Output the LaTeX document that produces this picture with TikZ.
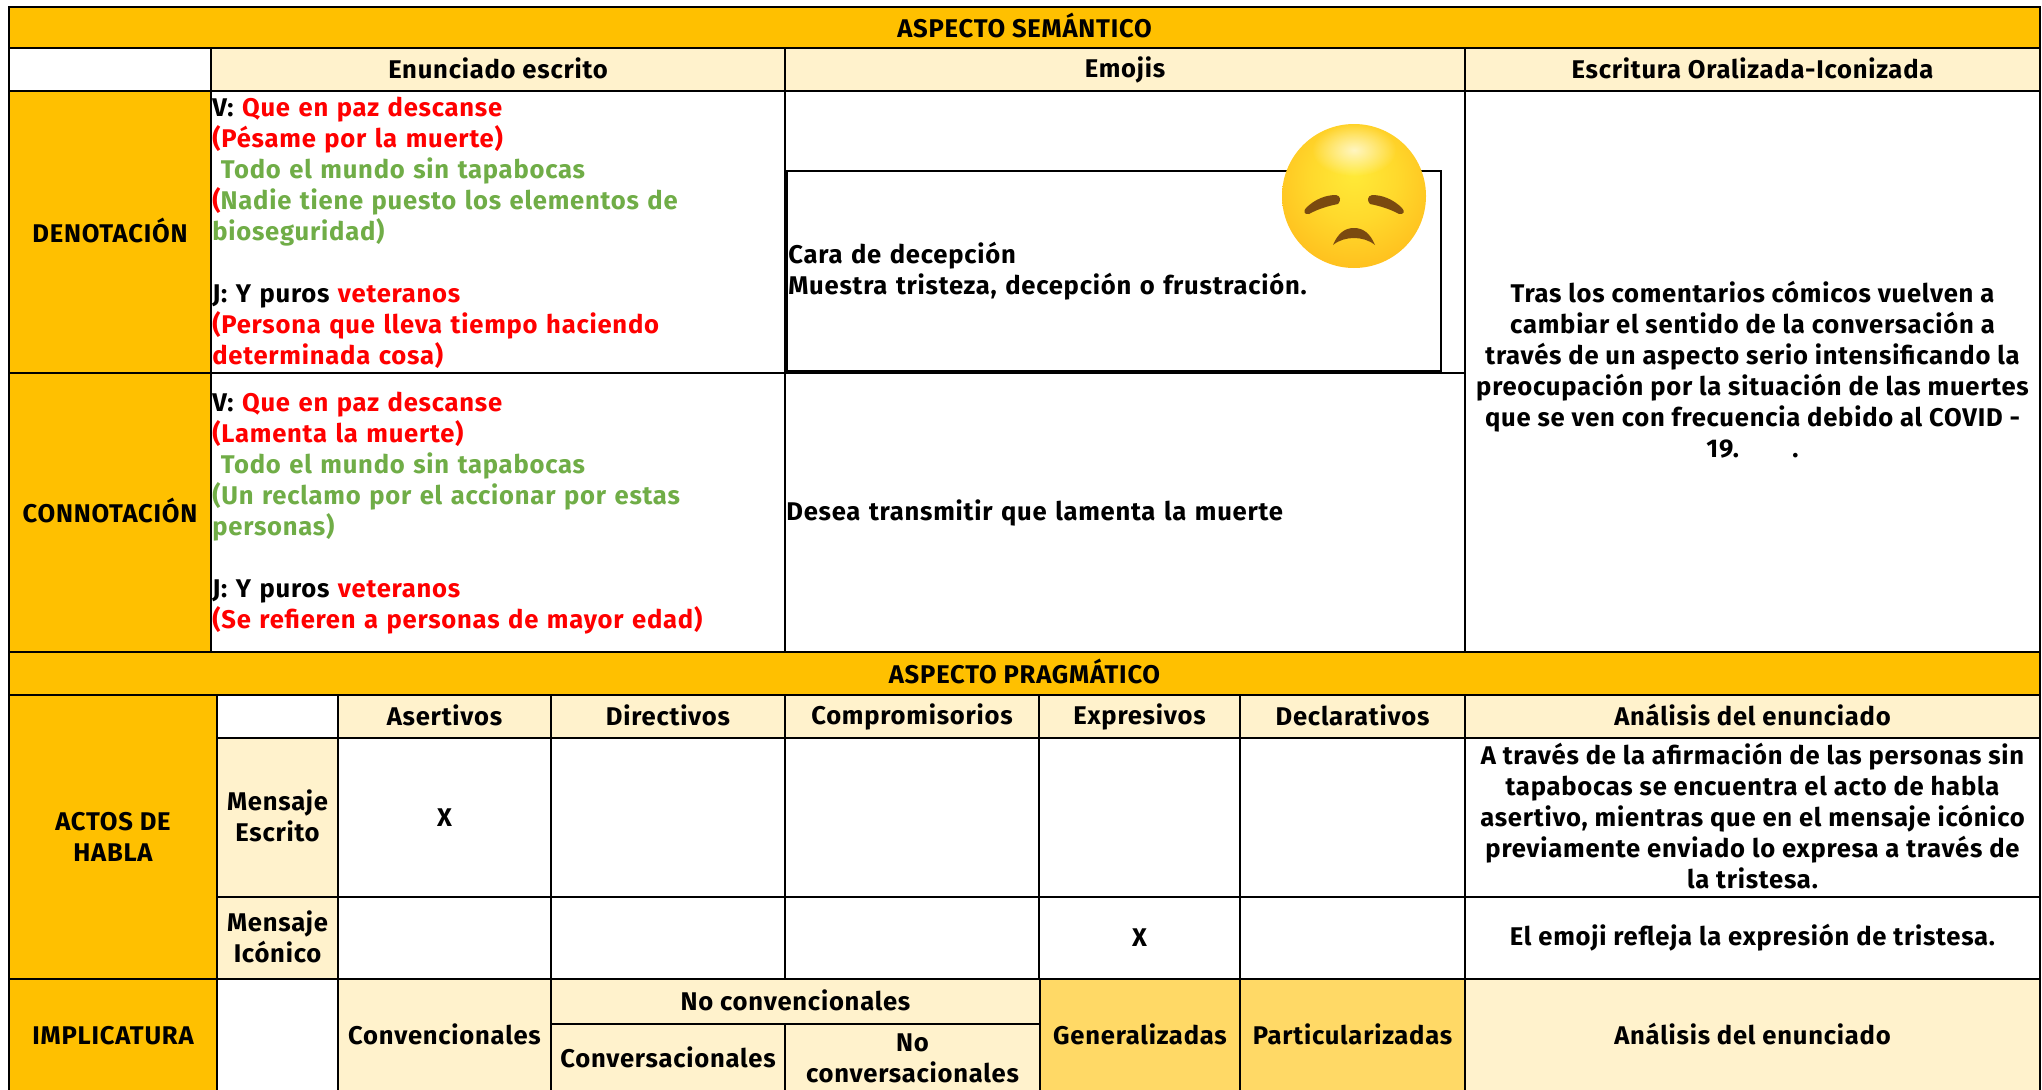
\documentclass[tikz,border=0pt]{standalone}
\usepackage{fontspec}
\setmainfont{Fira Sans}[LetterSpace=3]
\usetikzlibrary{fadings}
\definecolor{gold}{HTML}{FFC000}
\definecolor{pale}{HTML}{FFF2CC}
\definecolor{mid}{HTML}{FFD966}
\definecolor{rd}{HTML}{FF0000}
\definecolor{gr}{HTML}{70AD47}
\definecolor{browned}{HTML}{7A4A10}
\definecolor{ea}{HTML}{FFEA38}
\definecolor{eb}{HTML}{FFD92C}
\definecolor{ec}{HTML}{FFC01E}
\definecolor{ed}{HTML}{F5A312}
\definecolor{ee}{HTML}{E8890C}
\newcommand{\tb}{\fontsize{19.2}{23.25}\selectfont\bfseries}
\newcommand{\R}[1]{\textcolor{rd}{#1}}
\newcommand{\G}[1]{\textcolor{gr}{#1}}
\newcommand{\ls}{\leavevmode\vrule width 0pt height 16pt depth 3.25pt\relax}
\newcommand{\cellnode}[7]{%
  \pgfmathsetmacro{\cw}{(#4-#2)*0.75}%
  \pgfmathsetmacro{\ch}{(#5-#3)*0.75}%
  \node[cell,#6,minimum width=\cw pt,minimum height=\ch pt] (#1) at ({(#2+#4)/2},{(#3+#5)/2}) {\ls #7\ls};%
}
\pgfdeclareradialshading{emojiball}{\pgfpoint{0bp}{8bp}}{%
  color(0bp)=(ea);
  color(15bp)=(eb);
  color(30bp)=(ec);
  color(42bp)=(ed);
  color(52bp)=(ee);
  color(70bp)=(ee)}
\tikzfading[name=topglow,inner color=transparent!30,outer color=transparent!100]
\tikzset{
  cell/.style={draw=black,line width=2.1pt,inner sep=0pt,align=center,font=\tb,text=black,fill=white},
  goldcell/.style={fill=gold},
  palecell/.style={fill=pale},
  midcell/.style={fill=mid},
  leftcell/.style={align=left,text width=\cw pt-2pt},
}
\begin{document}
\begin{tikzpicture}[x=0.75pt,y=-0.75pt]
\useasboundingbox (0,0) rectangle (2042,1089);
% semantic part
\cellnode{tsem}{9}{7}{2040}{48}{goldcell}{ASPECTO SEMÁNTICO}
\cellnode{blank1}{9}{48}{211}{91}{}{}
\cellnode{henun}{211}{48}{785}{91}{palecell}{Enunciado escrito}
\cellnode{hemo}{785}{48}{1465}{91}{palecell}{Emojis}
\cellnode{hesc}{1465}{48}{2040}{91}{palecell}{Escritura Oralizada-Iconizada}
\cellnode{den}{9}{91}{211}{373}{goldcell}{DENOTACIÓN}
\cellnode{con}{9}{373}{211}{652}{goldcell}{CONNOTACIÓN}
\cellnode{dentxt}{211}{91}{785}{373}{leftcell}{V: \R{Que en paz descanse}\\
\R{(Pésame por la muerte)}\\
\G{\ Todo el mundo sin tapabocas}\\
\R{(}\G{Nadie tiene puesto los elementos de}\\
\G{bioseguridad)}\\
\mbox{}\\
J: Y puros \R{veteranos}\\
\R{(Persona que lleva tiempo haciendo}\\
\R{determinada cosa)}}
\cellnode{contxt}{211}{373}{785}{652}{leftcell}{V: \R{Que en paz descanse}\\
\R{(Lamenta la muerte)}\\
\G{\ Todo el mundo sin tapabocas}\\
\G{(Un reclamo por el accionar por estas}\\
\G{personas)}\\
\mbox{}\\
J: Y puros \R{veteranos}\\
\R{(Se refieren a personas de mayor edad)}}
\cellnode{emo1}{785}{91}{1465}{373}{}{}
\cellnode{emobox}{787}{171}{1441}{371}{leftcell}{Cara de decepción\\
Muestra tristeza, decepción o frustración.}
\cellnode{emo2}{785}{373}{1465}{652}{leftcell}{Desea transmitir que lamenta la muerte}
\cellnode{esc}{1465}{91}{2040}{652}{}{Tras los comentarios cómicos vuelven a\\
cambiar el sentido de la conversación a\\
través de un aspecto serio intensificando la\\
preocupación por la situación de las muertes\\
que se ven con frecuencia debido al COVID -\\
19.\hspace{40pt}.}
% emoji
\begin{scope}
\shade[shading=emojiball] (1354,196) circle[radius=72];
\fill[white,path fading=topglow] (1354,150) ellipse[x radius=42,y radius=26];
\fill[browned] (1306,208) .. controls (1315,199) and (1326,195) .. (1336,195) .. controls (1341,196) and (1341,201) .. (1338,204) .. controls (1328,206) and (1318,209) .. (1309,214) .. controls (1304,215) and (1303,211) .. (1306,208) -- cycle;
\fill[browned] (1402,208) .. controls (1393,199) and (1382,195) .. (1372,195) .. controls (1367,196) and (1367,201) .. (1370,204) .. controls (1380,206) and (1390,209) .. (1399,214) .. controls (1404,215) and (1405,211) .. (1402,208) -- cycle;
\fill[browned] (1333,245) .. controls (1338,233) and (1345,228) .. (1354,228) .. controls (1363,228) and (1370,233) .. (1375,245) .. controls (1369,240) and (1361,238) .. (1354,238) .. controls (1347,238) and (1339,240) .. (1333,245) -- cycle;
\end{scope}
% pragmatic part
\cellnode{tpra}{9}{652}{2040}{695}{goldcell}{ASPECTO PRAGMÁTICO}
\cellnode{actos}{9}{695}{217}{979}{goldcell}{ACTOS DE\\HABLA}
\cellnode{blank2}{217}{695}{338}{738}{}{}
\cellnode{hase}{338}{695}{551}{738}{palecell}{Asertivos}
\cellnode{hdir}{551}{695}{785}{738}{palecell}{Directivos}
\cellnode{hcom}{785}{695}{1039}{738}{palecell}{Compromisorios}
\cellnode{hexp}{1039}{695}{1240}{738}{palecell}{Expresivos}
\cellnode{hdec}{1240}{695}{1465}{738}{palecell}{Declarativos}
\cellnode{hana}{1465}{695}{2040}{738}{palecell}{Análisis del enunciado}
\cellnode{mes}{217}{738}{338}{897}{palecell}{Mensaje\\Escrito}
\cellnode{a1}{338}{738}{551}{897}{}{X}
\cellnode{a2}{551}{738}{785}{897}{}{}
\cellnode{a3}{785}{738}{1039}{897}{}{}
\cellnode{a4}{1039}{738}{1240}{897}{}{}
\cellnode{a5}{1240}{738}{1465}{897}{}{}
\cellnode{a6}{1465}{738}{2040}{897}{}{A través de la afirmación de las personas sin\\
tapabocas se encuentra el acto de habla\\
asertivo, mientras que en el mensaje icónico\\
previamente enviado lo expresa a través de\\
la tristesa.}
\cellnode{mic}{217}{897}{338}{979}{palecell}{Mensaje\\Icónico}
\cellnode{b1}{338}{897}{551}{979}{}{}
\cellnode{b2}{551}{897}{785}{979}{}{}
\cellnode{b3}{785}{897}{1039}{979}{}{}
\cellnode{b4}{1039}{897}{1240}{979}{}{X}
\cellnode{b5}{1240}{897}{1465}{979}{}{}
\cellnode{b6}{1465}{897}{2040}{979}{}{El emoji refleja la expresión de tristesa.}
% implicature part
\cellnode{imp}{9}{979}{217}{1093}{goldcell}{IMPLICATURA}
\cellnode{blank3}{217}{979}{338}{1093}{}{}
\cellnode{conv}{338}{979}{551}{1093}{palecell}{Convencionales}
\cellnode{noconv}{551}{979}{1040}{1024}{palecell}{No convencionales}
\cellnode{cvs}{551}{1024}{785}{1093}{palecell}{Conversacionales}
\cellnode{ncvs}{785}{1024}{1040}{1093}{palecell}{No\\conversacionales}
\cellnode{gen}{1040}{979}{1240}{1093}{midcell}{Generalizadas}
\cellnode{par}{1240}{979}{1465}{1093}{midcell}{Particularizadas}
\cellnode{ana2}{1465}{979}{2040}{1093}{palecell}{Análisis del enunciado}
\end{tikzpicture}
\end{document}
